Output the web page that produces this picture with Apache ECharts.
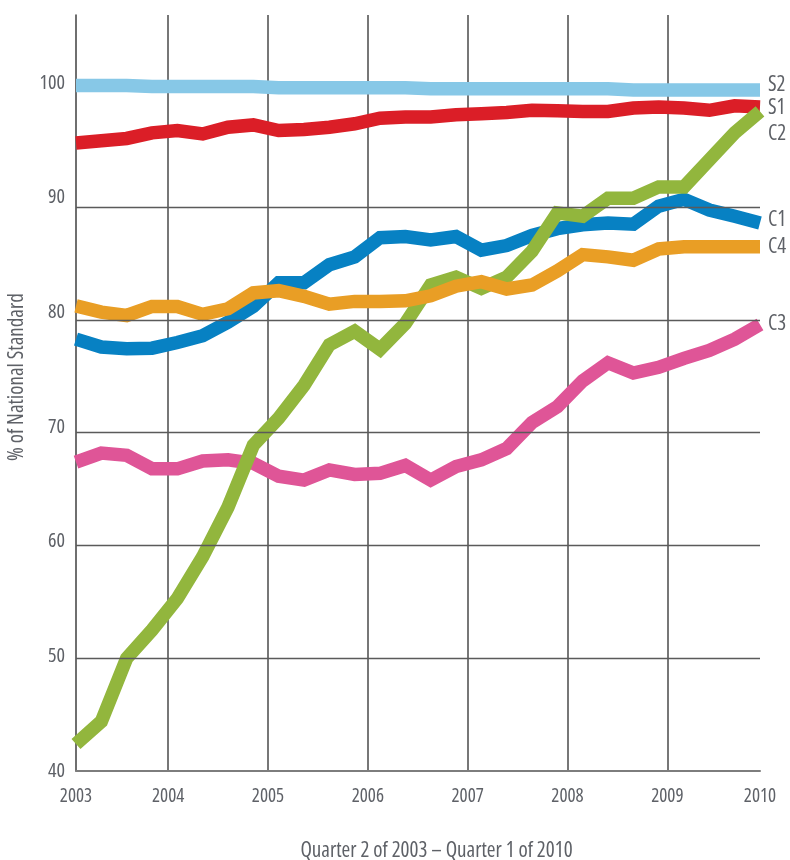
<!DOCTYPE html>
<html>
<head>
<meta charset="utf-8">
<script src="https://cdn.jsdelivr.net/npm/echarts@6/dist/echarts.min.js"></script>
<style>
  html, body { margin: 0; padding: 0; background: #ffffff; }
  #chart { width: 790px; height: 860px; }
</style>
</head>
<body>
<div id="chart"></div>
<script>
// Quarters: Q2 2003 .. Q1 2010 (28 points)
const quarters = [
  'Q2 2003','Q3 2003','Q4 2003','Q1 2004','Q2 2004','Q3 2004','Q4 2004',
  'Q1 2005','Q2 2005','Q3 2005','Q4 2005','Q1 2006','Q2 2006','Q3 2006','Q4 2006',
  'Q1 2007','Q2 2007','Q3 2007','Q4 2007','Q1 2008','Q2 2008','Q3 2008','Q4 2008',
  'Q1 2009','Q2 2009','Q3 2009','Q4 2009','Q1 2010'
];

const s2 = [100.8,100.8,100.8,100.7,100.7,100.7,100.7,100.7,100.6,100.6,100.6,100.6,100.6,100.6,
            100.5,100.5,100.5,100.5,100.5,100.5,100.5,100.5,100.4,100.4,100.4,100.4,100.4,100.4];
const s1 = [95.7,95.9,96.1,96.6,96.8,96.5,97.1,97.3,96.8,96.9,97.1,97.4,97.9,98.0,
            98.0,98.2,98.3,98.4,98.6,98.55,98.5,98.5,98.8,98.9,98.8,98.6,99.0,98.9];
const c2 = [42.4,44.4,50.0,52.5,55.3,59.0,63.4,68.9,71.3,74.2,77.8,79.0,77.4,79.7,
            83.1,83.8,82.8,83.8,86.1,89.5,89.2,90.8,90.8,91.8,91.8,94.2,96.6,98.5];
const c1 = [78.3,77.6,77.45,77.5,78.0,78.6,79.8,81.2,83.3,83.3,84.9,85.6,87.3,87.4,
            87.1,87.4,86.2,86.6,87.5,88.1,88.45,88.6,88.5,90.1,90.7,89.75,89.2,88.6];
const c4 = [81.25,80.7,80.4,81.2,81.2,80.5,81.0,82.4,82.6,82.1,81.4,81.65,81.65,81.7,
            82.15,83.0,83.4,82.75,83.1,84.35,85.8,85.6,85.3,86.3,86.5,86.5,86.5,86.5];
const c3 = [67.4,68.2,68.0,66.8,66.8,67.5,67.6,67.3,66.15,65.8,66.7,66.3,66.4,67.1,
            65.8,67.0,67.6,68.6,70.9,72.3,74.6,76.2,75.3,75.8,76.6,77.3,78.3,79.6];

const gridValues = [50, 60, 70, 80, 90];

// Condensed face of Open Sans (selected through the font-stretch keyword)
const FONT = "'Open Sans', 'DejaVu Sans Condensed', sans-serif";
const STRETCH = 'condensed';
const TXT = '#5e6167';

function lineSeries(name, data, color, labelOffset, extra) {
  return Object.assign({
    name: name,
    type: 'line',
    xAxisIndex: 0,
    yAxisIndex: 0,
    data: data,
    symbol: 'none',
    smooth: false,
    lineStyle: { color: color, width: 13.5, join: 'miter', miterLimit: 4, cap: 'butt' },
    itemStyle: { color: color },
    endLabel: {
      show: true,
      formatter: name,
      color: TXT,
      fontFamily: FONT,
      fontWeight: STRETCH,
      fontSize: 21,
      distance: 8,
      offset: labelOffset
    },
    emphasis: { disabled: true },
    silent: true
  }, extra || {});
}

const chart = echarts.init(document.getElementById('chart'), null, { renderer: 'canvas' });

chart.setOption({
  animation: false,
  backgroundColor: '#ffffff',
  grid: { left: 76, right: 30, top: 15, bottom: 89, outerBoundsMode: 'none', containLabel: false },
  xAxis: [
    {
      type: 'category',
      data: quarters,
      boundaryGap: false,
      show: false
    },
    {
      type: 'value',
      min: 2003.077,
      max: 2009.928,
      splitNumber: 7,
      position: 'bottom',
      axisLine: { show: true, lineStyle: { color: '#7d7d7d', width: 2 } },
      axisTick: { show: false },
      axisLabel: {
        show: true,
        showMinLabel: true,
        showMaxLabel: true,
        formatter: function (v) { return String(Math.round(v)); },
        color: TXT,
        fontFamily: FONT,
        fontWeight: STRETCH,
        fontSize: 19,
        margin: 16
      },
      splitLine: {
        show: true,
        showMinLine: false,
        showMaxLine: false,
        lineStyle: { color: '#4a4a4a', width: 1.5 }
      },
      name: 'Quarter 2 of 2003 \u2013 Quarter 1 of 2010',
      nameLocation: 'middle',
      nameGap: 70,
      nameTextStyle: { color: TXT, fontFamily: FONT, fontWeight: STRETCH, fontSize: 21, padding: [0, 0, 0, 37] }
    }
  ],
  yAxis: [
    {
      type: 'value',
      min: 40,
      max: 107.05,
      interval: 10,
      axisLine: { show: true, lineStyle: { color: '#3f3f3f', width: 1.5 } },
      axisTick: { show: false },
      axisLabel: { show: false },
      splitLine: { show: false }
    },
    {
      type: 'value',
      min: 40,
      max: 105.94,
      interval: 10,
      position: 'left',
      axisLine: { show: false },
      axisTick: { show: false },
      splitLine: { show: false },
      axisLabel: {
        show: true,
        showMaxLabel: false,
        formatter: function (v) { return (Math.abs(v % 10) < 1e-6) ? String(v) : ''; },
        color: TXT,
        fontFamily: FONT,
        fontWeight: STRETCH,
        fontSize: 20,
        margin: 11
      },
      name: '% of National Standard',
      nameLocation: 'middle',
      nameRotate: 90,
      nameGap: 48,
      nameTextStyle: { color: TXT, fontFamily: FONT, fontWeight: STRETCH, fontSize: 21, padding: [0, 0, 0, 32] }
    }
  ],
  series: [
    lineSeries('S2', s2, '#87c8e7', [0, -5], {
      markLine: {
        silent: true,
        symbol: 'none',
        label: { show: false },
        lineStyle: { color: '#5a5a5a', width: 1.3, type: 'solid' },
        data: gridValues.map(function (v) { return { yAxis: v }; })
      }
    }),
    lineSeries('S1', s1, '#db1e27', [0, 1]),
    lineSeries('C3', c3, '#df5597', [0, 0]),
    lineSeries('C1', c1, '#0781c3', [0, -3]),
    lineSeries('C2', c2, '#92b63d', [0, 23]),
    lineSeries('C4', c4, '#e99e25', [0, 0])
  ]
});
</script>
</body>
</html>
